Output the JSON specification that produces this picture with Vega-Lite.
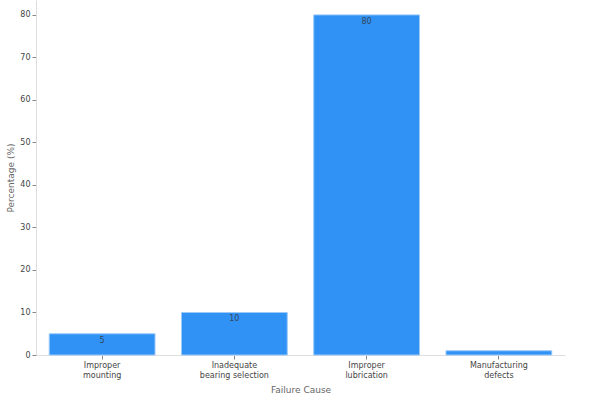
{
  "$schema": "https://vega.github.io/schema/vega-lite/v6.json",
  "description": "Bearing failure causes by percentage.",
  "width": 600,
  "height": 400,
  "autosize": {"type": "fit", "contains": "padding"},
  "padding": {"left": 6, "right": 35, "top": 0, "bottom": 6},
  "data": {
    "values": [
      {"cause": "Improper|mounting", "pct": 5},
      {"cause": "Inadequate|bearing selection", "pct": 10},
      {"cause": "Improper|lubrication", "pct": 80},
      {"cause": "Manufacturing|defects", "pct": 1}
    ]
  },
  "encoding": {
    "x": {
      "field": "cause",
      "type": "nominal",
      "sort": null,
      "title": "Failure Cause",
      "scale": {"paddingInner": 0.2, "paddingOuter": 0.1},
      "axis": {"labelAngle": 0, "labelExpr": "split(datum.label, '|')", "labelPadding": 2, "titlePadding": 6}
    },
    "y": {
      "field": "pct",
      "type": "quantitative",
      "title": "Percentage (%)",
      "scale": {"domain": [0, 83.5], "nice": false},
      "axis": {"values": [0, 10, 20, 30, 40, 50, 60, 70, 80], "grid": false}
    }
  },
  "layer": [
    {
      "mark": {"type": "bar", "color": "#3192f5", "stroke": "#9ccaf8", "strokeWidth": 1}
    },
    {
      "transform": [{"filter": "datum.pct >= 2"}],
      "mark": {"type": "text", "baseline": "top", "dy": 3, "fontSize": 8, "color": "#333333", "opacity": 0.8},
      "encoding": {"text": {"field": "pct", "type": "quantitative"}}
    }
  ],
  "config": {
    "font": "DejaVu Sans",
    "view": {"stroke": null},
    "axis": {
      "labelFontSize": 8,
      "labelColor": "#444444",
      "titleFontSize": 9,
      "titleFontWeight": "normal",
      "titleColor": "#666666",
      "domainColor": "#dddddd",
      "tickColor": "#888888",
      "tickSize": 4
    }
  }
}
